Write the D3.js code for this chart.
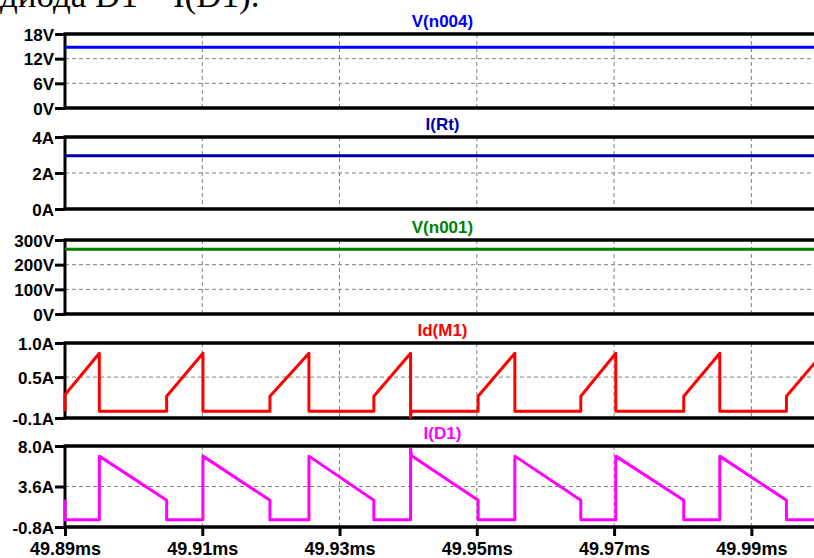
<!DOCTYPE html>
<html>
<head>
<meta charset="utf-8">
<script src="https://cdn.jsdelivr.net/npm/d3@7"></script>
<style>
  html, body { margin: 0; padding: 0; background: #fff; }
  svg { display: block; }
  .lbl { font-family: "Liberation Sans", Arial, sans-serif; font-weight: bold; font-size: 17px; fill: #000; }
  .ttl { font-family: "Liberation Sans", Arial, sans-serif; font-weight: bold; font-size: 17px; }
</style>
</head>
<body>
<script>
// Time axis (ms)
const timeDomain = [49.89, 50.0];
const timeTicks = [49.89, 49.91, 49.93, 49.95, 49.97, 49.99];
const timeTickLabels = ["49.89ms", "49.91ms", "49.93ms", "49.95ms", "49.97ms", "49.99ms"];

// Trace names
const traceNames = ["V(n004)", "I(Rt)", "V(n001)", "Id(M1)", "I(D1)"];

// Y-axis ticks per pane
const yTicksN004 = [0, 6, 12, 18];
const yLabelsN004 = ["0V", "6V", "12V", "18V"];
const yTicksRt = [0, 2, 4];
const yLabelsRt = ["0A", "2A", "4A"];
const yTicksN001 = [0, 100, 200, 300];
const yLabelsN001 = ["0V", "100V", "200V", "300V"];
const yTicksM1 = [-0.1, 0.5, 1.0];
const yLabelsM1 = ["-0.1A", "0.5A", "1.0A"];
const yTicksD1 = [-0.8, 3.6, 8.0];
const yLabelsD1 = ["-0.8A", "3.6A", "8.0A"];

// Output voltage, load current, input voltage (flat over the window)
const vN004Time = [49.89, 50.0];
const vN004 = [14.8, 14.8];
const iRtTime = [49.89, 50.0];
const iRt = [2.96, 2.96];
const vN001Time = [49.89, 50.0];
const vN001 = [262, 262];

// MOSFET drain current
const idM1Time = [
  49.89000, 49.89000, 49.89500, 49.89500,
  49.90481, 49.90481, 49.91010, 49.91010,
  49.91986, 49.91986, 49.92554, 49.92554,
  49.93500, 49.93500, 49.94035, 49.94035, 49.94045,
  49.95019, 49.95019, 49.95554, 49.95554,
  49.96515, 49.96515, 49.97025, 49.97025,
  49.98015, 49.98015, 49.98540, 49.98540,
  49.99511, 49.99511, 50.00000
];
const idM1 = [
  0, 0.24, 0.85, 0,
  0, 0.22, 0.85, 0,
  0, 0.22, 0.85, 0,
  0, 0.22, 0.85, -0.09, 0,
  0, 0.22, 0.85, 0,
  0, 0.22, 0.85, 0,
  0, 0.22, 0.85, 0,
  0, 0.22, 0.80
];

// Diode current
const iD1Time = [
  49.89000, 49.89000, 49.89500, 49.89500,
  49.90481, 49.90481, 49.91010, 49.91010,
  49.91986, 49.91986, 49.92554, 49.92554,
  49.93500, 49.93500, 49.94035, 49.94035, 49.94050,
  49.95019, 49.95019, 49.95554, 49.95554,
  49.96515, 49.96515, 49.97025, 49.97025,
  49.98015, 49.98015, 49.98540, 49.98540,
  49.99511, 49.99511, 50.00000
];
const iD1 = [
  2.2, 0, 0, 6.9,
  2.1, 0, 0, 6.9,
  2.1, 0, 0, 6.9,
  2.1, 0, 0, 7.7, 6.95,
  2.1, 0, 0, 6.9,
  2.1, 0, 0, 6.9,
  2.1, 0, 0, 6.9,
  2.1, 0, 0
];

const W = 814, H = 558;
const plotLeft = 65, plotRight = 820;

const panes = [
  { name: traceNames[0], color: "#0000ff", top: 34, bottom: 108, ticks: yTicksN004, labels: yLabelsN004, t: vN004Time, v: vN004 },
  { name: traceNames[1], color: "#0000a8", top: 137, bottom: 209, ticks: yTicksRt, labels: yLabelsRt, t: iRtTime, v: iRt },
  { name: traceNames[2], color: "#008000", top: 240, bottom: 314, ticks: yTicksN001, labels: yLabelsN001, t: vN001Time, v: vN001 },
  { name: traceNames[3], color: "#ff0000", top: 343, bottom: 418, ticks: yTicksM1, labels: yLabelsM1, t: idM1Time, v: idM1 },
  { name: traceNames[4], color: "#ff00ff", top: 446, bottom: 527, ticks: yTicksD1, labels: yLabelsD1, t: iD1Time, v: iD1 }
];

const svg = d3.select("body").append("svg").attr("width", W).attr("height", H);

// Caption line above the plot
svg.append("text")
  .attr("x", 0).attr("y", 7)
  .style("font-family", "'Liberation Serif', 'Times New Roman', serif")
  .style("font-size", "35px")
  .text("диода D1 – I(D1).");

const x = d3.scaleLinear().domain(timeDomain).range([plotLeft, plotRight]);

panes.forEach((p, i) => {
  const y = d3.scaleLinear().domain([p.ticks[0], p.ticks[p.ticks.length - 1]]).range([p.bottom, p.top]);
  const g = svg.append("g");

  // grid: vertical at time ticks, horizontal at inner value ticks
  g.selectAll(".vg").data(timeTicks.slice(1)).join("line")
    .attr("x1", d => x(d)).attr("x2", d => x(d))
    .attr("y1", p.top).attr("y2", p.bottom)
    .attr("stroke", "#808080").attr("stroke-width", 1).attr("stroke-dasharray", "4,3");
  g.selectAll(".hg").data(p.ticks.slice(1, -1)).join("line")
    .attr("x1", plotLeft).attr("x2", plotRight)
    .attr("y1", d => y(d)).attr("y2", d => y(d))
    .attr("stroke", "#808080").attr("stroke-width", 1).attr("stroke-dasharray", "4,3");

  // y axis
  const ax = d3.axisLeft(y).tickValues(p.ticks)
    .tickFormat((d, k) => p.labels[k]).tickSize(10).tickPadding(1);
  const ag = g.append("g").attr("transform", `translate(${plotLeft},0)`).call(ax);
  ag.select(".domain").remove();
  ag.selectAll(".tick line").attr("stroke", "#000").attr("stroke-width", 3);
  ag.selectAll(".tick text").attr("class", "lbl").attr("dy", "0.36em");

  // frame
  g.append("line").attr("x1", plotLeft - 1.5).attr("x2", plotRight).attr("y1", p.top).attr("y2", p.top)
    .attr("stroke", "#000").attr("stroke-width", 3.5);
  g.append("line").attr("x1", plotLeft - 1.5).attr("x2", plotRight).attr("y1", p.bottom).attr("y2", p.bottom)
    .attr("stroke", "#000").attr("stroke-width", 3.5);
  g.append("line").attr("x1", plotLeft).attr("x2", plotLeft).attr("y1", p.top).attr("y2", p.bottom)
    .attr("stroke", "#000").attr("stroke-width", 3);

  // title
  svg.append("text").attr("class", "ttl")
    .attr("x", (plotLeft + plotRight) / 2).attr("y", p.top - 7)
    .attr("text-anchor", "middle").attr("fill", p.color)
    .text(p.name);

  // trace
  const pts = p.t.map((t, k) => [t, p.v[k]]);
  g.append("path").datum(pts)
    .attr("fill", "none").attr("stroke", p.color).attr("stroke-width", 3)
    .attr("stroke-linejoin", "round")
    .attr("d", d3.line().x(d => x(d[0])).y(d => y(d[1])));

  // time axis on the bottom pane
  if (i === panes.length - 1) {
    const xa = d3.axisBottom(x).tickValues(timeTicks)
      .tickFormat((d, k) => timeTickLabels[k]).tickSize(9).tickPadding(6);
    const xg = svg.append("g").attr("transform", `translate(0,${p.bottom})`).call(xa);
    xg.select(".domain").remove();
    xg.selectAll(".tick line").attr("stroke", "#000").attr("stroke-width", 3);
    xg.selectAll(".tick text").attr("class", "lbl").style("font-size", "18px");
  }
});
</script>
</body>
</html>
